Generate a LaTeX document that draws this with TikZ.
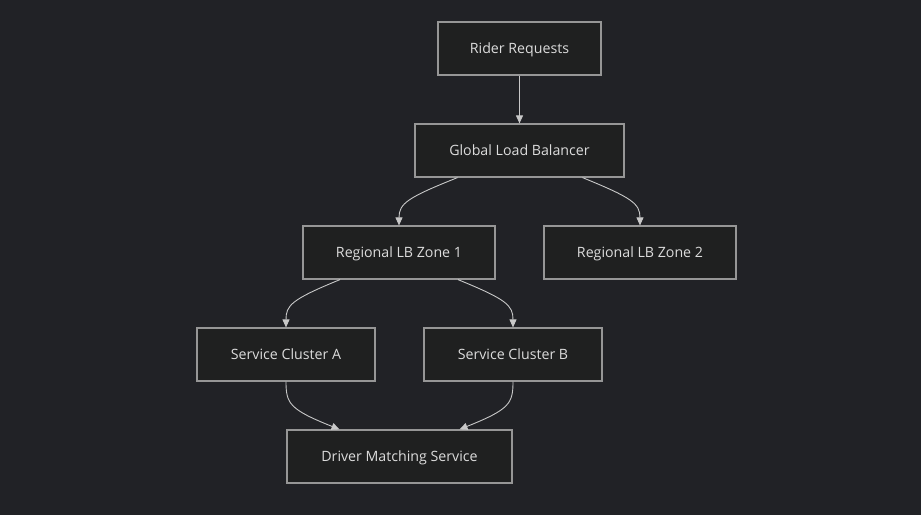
\documentclass[tikz,border=0pt]{standalone}
\usepackage{fontspec}
\setmainfont{Open Sans}
\usetikzlibrary{arrows.meta,calc}
\definecolor{bg}{HTML}{212226}
\definecolor{nodefill}{HTML}{1F2020}
\definecolor{nodeline}{HTML}{969696}
\definecolor{txt}{HTML}{DCDCDC}
\definecolor{edge}{HTML}{C8C8C8}
\begin{document}
\begin{tikzpicture}[x=1pt,y=-1pt,
  box/.style={draw=nodeline,fill=nodefill,line width=1.2pt,text=txt,text depth=0pt,
    font=\fontsize{14.2}{16}\selectfont,minimum height=53pt,inner sep=0pt,anchor=center},
  link/.style={draw=edge,line width=0.9pt,-{Triangle[length=8pt,width=7pt]}}]
\fill[bg] (0,0) rectangle (921,515);
\node[box,minimum width=163pt] (rr) at (519.5,48.5) {Rider Requests};
\node[box,minimum width=209pt] (glb) at (519.5,150.5) {Global Load Balancer};
\node[box,minimum width=192pt] (z1) at (399,252.5) {Regional LB Zone 1};
\node[box,minimum width=192pt] (z2) at (640,252.5) {Regional LB Zone 2};
\node[box,minimum width=178pt] (ca) at (286,354.5) {Service Cluster A};
\node[box,minimum width=178pt] (cb) at (513,354.5) {Service Cluster B};
\node[box,minimum width=225pt] (dm) at (399.5,456.5) {Driver Matching Service};
\draw[link] (rr.south) -- (glb.north);
\draw[link] ($(glb.south)+(-62,0)$) .. controls ($(glb.south)+(-112,20)$) and ($(z1.north)+(0,-22)$) .. (z1.north);
\draw[link] ($(glb.south)+(63,0)$) .. controls ($(glb.south)+(112,20)$) and ($(z2.north)+(0,-22)$) .. (z2.north);
\draw[link] ($(z1.south)+(-59,0)$) .. controls ($(z1.south)+(-108,20)$) and ($(ca.north)+(0,-22)$) .. (ca.north);
\draw[link] ($(z1.south)+(59,0)$) .. controls ($(z1.south)+(108,20)$) and ($(cb.north)+(0,-22)$) .. (cb.north);
\draw[link] (ca.south) .. controls ($(ca.south)+(0,22)$) and ($(dm.north)+(-110,-20)$) .. ($(dm.north)+(-60,0)$);
\draw[link] (cb.south) .. controls ($(cb.south)+(0,22)$) and ($(dm.north)+(110,-20)$) .. ($(dm.north)+(60,0)$);
\end{tikzpicture}
\end{document}
